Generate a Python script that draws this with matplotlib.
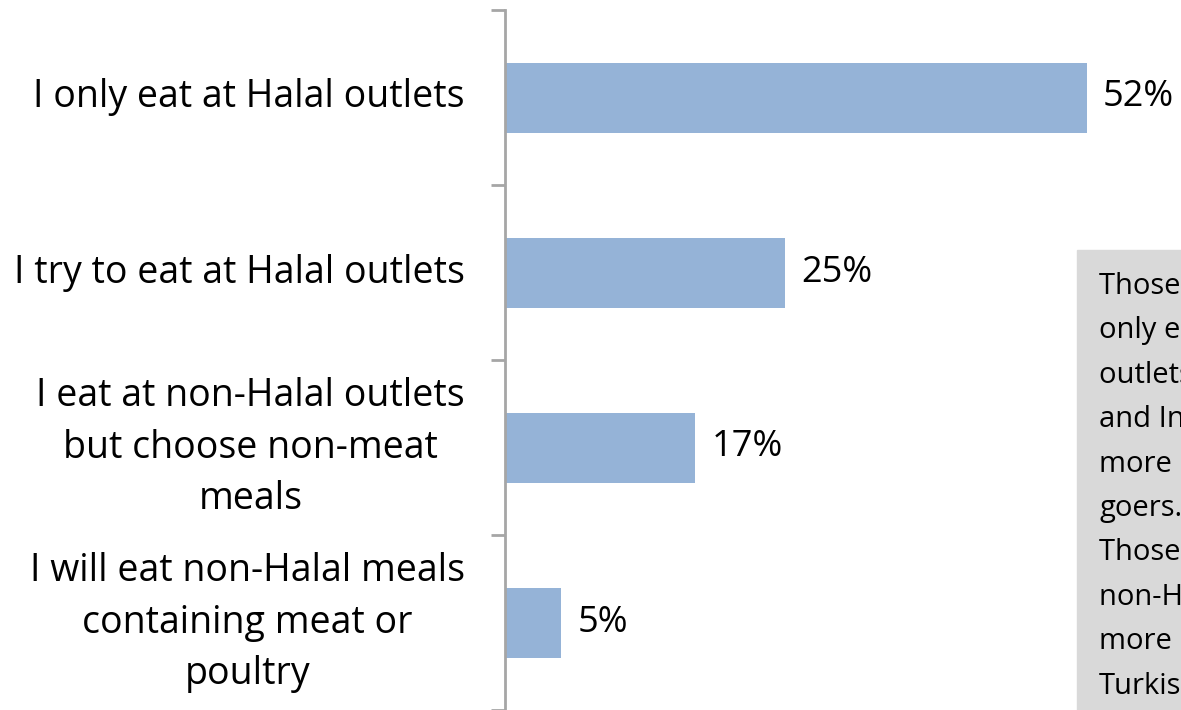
import matplotlib.pyplot as plt

plt.rcParams['font.family'] = ['Open Sans', 'DejaVu Sans']

categories = [
    'I only eat at Halal outlets',
    'I try to eat at Halal outlets',
    'I eat at non-Halal outlets\nbut choose non-meat\nmeals',
    'I will eat non-Halal meals\ncontaining meat or\npoultry',
]
values = [52, 25, 17, 5]
value_labels = ['52%', '25%', '17%', '5%']
note_lines = [
    'Those who',
    'only eat at Halal',
    'outlets are Arab',
    'and Indian, and',
    'more often mosque',
    'goers.',
    'Those who eat',
    'non-Halal meals are',
    'more likely to be',
    'Turkish.',
]

W, H = 1181, 710
fig = plt.figure(figsize=(W / 100, H / 100), dpi=100)
ax = fig.add_axes([505 / W, 0, 1 - 505 / W, 700 / H])

bar_color = '#95b3d7'
ypos = list(range(len(categories)))
ax.barh(ypos, values, height=0.4, color=bar_color)

ax.set_xlim(0, (W - 505) / 11.19)
ax.set_ylim(3.5, -0.5)

for y, v, lab in zip(ypos, values, value_labels):
    ax.text(v + 1.45, y, lab, va='center', ha='left', fontsize=26, color='black')

for y, cat in zip(ypos, categories):
    ax.text(-3.6, y, cat, va='center', ha='right', multialignment='center',
            fontsize=27, color='black', linespacing=1.45)

ax.set_yticks([-0.5, 0.5, 1.5, 2.5, 3.5])
ax.set_yticklabels([])
ax.tick_params(axis='y', length=10, width=2, color='#a6a6a6', direction='out')
ax.set_xticks([])
for s in ['top', 'right', 'bottom']:
    ax.spines[s].set_visible(False)
ax.spines['left'].set_color('#a6a6a6')
ax.spines['left'].set_linewidth(2)

# grey note box on the right
fig.patches.append(plt.Rectangle((1077 / W, 0), 1, (H - 250) / H,
                                 transform=fig.transFigure, color='#d9d9d9', zorder=0))
fig.text(1099 / W, (H - 272) / H, '\n'.join(note_lines), ha='left', va='top',
         fontsize=21, linespacing=1.70, color='black')

fig.savefig('out.png', dpi=100)
